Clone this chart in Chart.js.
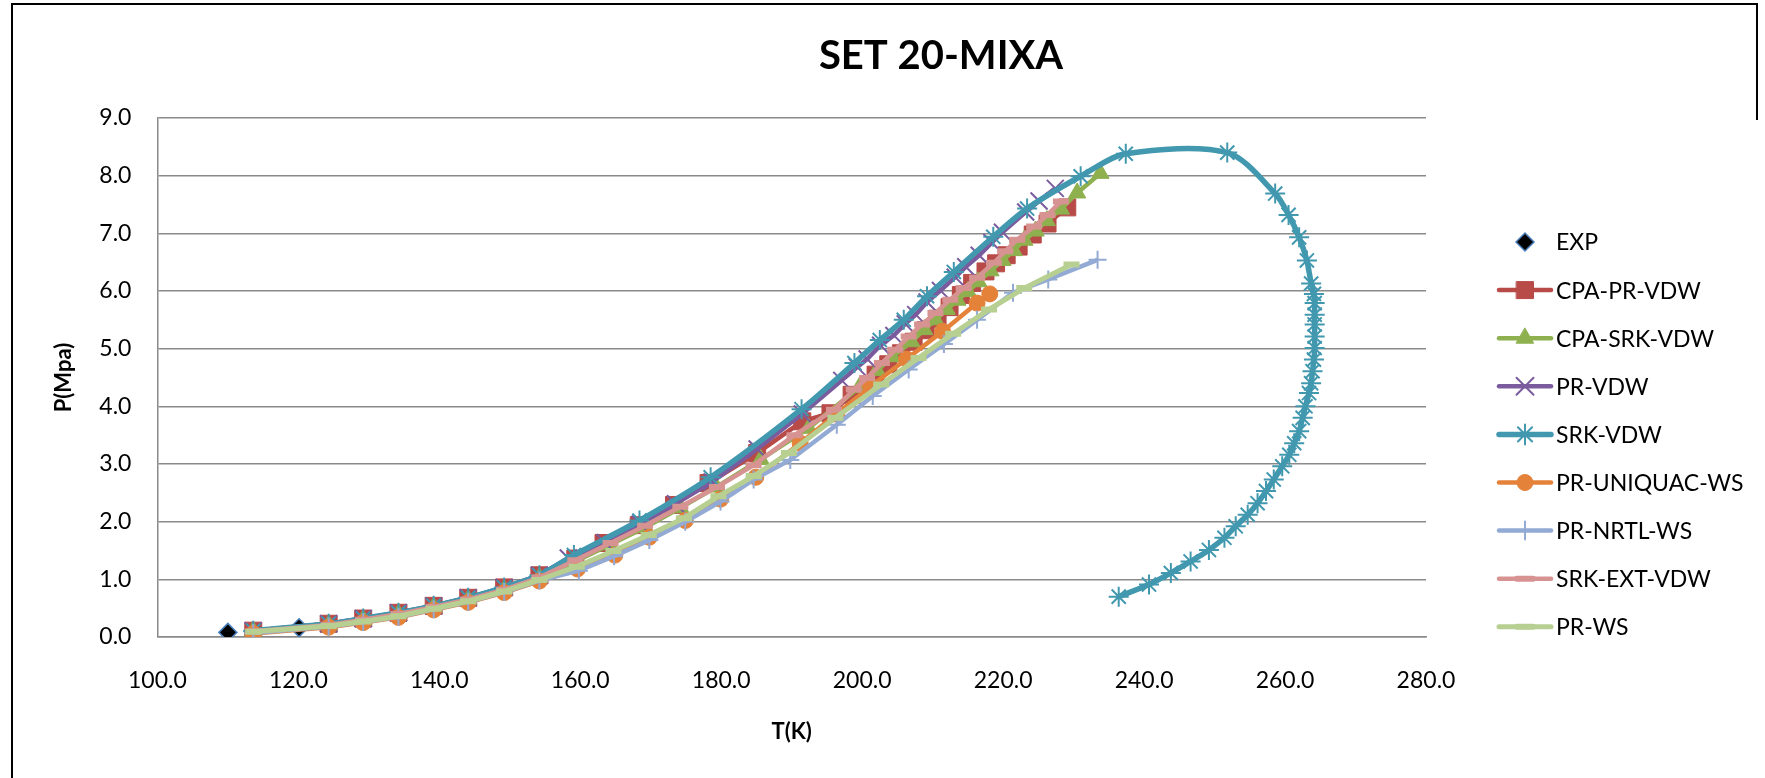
<!DOCTYPE html>
<html>
<head>
<meta charset="utf-8">
<script src="https://cdn.jsdelivr.net/npm/chart.js@4/dist/chart.umd.min.js"></script>
<style>
  html, body { margin: 0; padding: 0; background: #fff; }
  #wrap { width: 1765px; height: 778px; }
</style>
</head>
<body>
<div id="wrap"><canvas id="chartCanvas" width="1765" height="778"></canvas></div>
<script>
// values (T in K, P in MPa)
const expT = [110.0, 113.6, 120.1];
const expP = [0.08, 0.09, 0.16];

const cpaPrT = [113.6, 124.3, 129.2, 134.2, 139.2, 144.1, 149.2, 154.2, 159.3, 163.3, 168.3, 173.3, 178.2, 185.1, 191.5, 195.5, 198.5, 201.9, 203.7, 205.5, 207.3, 209.0, 210.7, 212.4, 214.0, 215.6, 217.5, 219.0, 220.5, 222.2, 224.2, 226.3, 229.1];
const cpaPrP = [0.11, 0.23, 0.32, 0.42, 0.54, 0.68, 0.86, 1.07, 1.36, 1.63, 1.94, 2.29, 2.67, 3.19, 3.74, 3.88, 4.20, 4.55, 4.73, 4.92, 5.12, 5.32, 5.52, 5.72, 5.93, 6.14, 6.34, 6.48, 6.62, 6.77, 6.98, 7.17, 7.45];

const cpaSrkT = [113.6, 124.3, 129.2, 134.2, 139.2, 144.1, 149.2, 154.2, 159.3, 164.2, 169.2, 174.2, 179.3, 185.6, 192.4, 199.6, 202.1, 204.3, 207.0, 208.8, 210.4, 212.0, 213.5, 215.0, 216.5, 218.2, 219.9, 221.5, 223.0, 224.6, 226.2, 228.2, 230.5, 233.8];
const cpaSrkP = [0.10, 0.21, 0.30, 0.40, 0.52, 0.65, 0.82, 1.03, 1.31, 1.60, 1.90, 2.24, 2.60, 3.08, 3.62, 4.33, 4.62, 4.86, 5.12, 5.33, 5.50, 5.68, 5.84, 5.99, 6.16, 6.35, 6.53, 6.70, 6.88, 7.04, 7.22, 7.42, 7.70, 8.04];

const prVdwT = [113.6, 124.3, 129.2, 134.2, 139.2, 144.1, 149.2, 154.2, 158.3, 163.5, 168.5, 173.5, 178.7, 185.1, 191.5, 197.1, 199.3, 200.7, 202.6, 204.5, 206.1, 207.6, 209.2, 211.1, 213.2, 214.7, 216.6, 218.4, 219.9, 223.2, 225.1, 227.4];
const prVdwP = [0.11, 0.23, 0.32, 0.42, 0.54, 0.68, 0.86, 1.07, 1.37, 1.64, 1.96, 2.31, 2.69, 3.26, 3.87, 4.45, 4.68, 4.82, 5.06, 5.23, 5.43, 5.59, 5.81, 6.01, 6.24, 6.42, 6.62, 6.84, 7.02, 7.37, 7.56, 7.78];

const srkVdwT = [113.6, 124.3, 129.2, 134.2, 139.2, 144.1, 149.2, 154.2, 159.1, 168.4, 178.5, 191.4, 198.9, 202.5, 205.9, 209.2, 213.0, 218.6, 223.4, 231.0, 237.4, 251.8, 258.6, 260.5, 262.0, 263.1, 263.7, 264.1, 264.2, 264.2, 264.2, 264.2, 264.2, 264.1, 263.9, 263.7, 263.4, 262.9, 262.5, 262.0, 261.3, 260.6, 259.6, 258.4, 257.3, 256.1, 254.7, 253.0, 251.4, 249.2, 246.6, 243.8, 240.7, 236.4];
const srkVdwP = [0.11, 0.23, 0.32, 0.42, 0.54, 0.68, 0.86, 1.07, 1.42, 2.02, 2.77, 3.95, 4.75, 5.15, 5.50, 5.91, 6.33, 6.94, 7.43, 7.99, 8.38, 8.40, 7.69, 7.32, 6.93, 6.53, 6.13, 5.95, 5.79, 5.59, 5.42, 5.21, 5.01, 4.81, 4.61, 4.40, 4.23, 4.00, 3.80, 3.57, 3.36, 3.16, 2.96, 2.73, 2.53, 2.32, 2.12, 1.92, 1.72, 1.51, 1.31, 1.11, 0.91, 0.70];

const prUniqT = [113.6, 124.3, 129.2, 134.2, 139.2, 144.1, 149.2, 154.2, 159.6, 164.9, 169.8, 174.9, 179.9, 184.9, 191.2, 196.4, 201.2, 206.3, 211.4, 216.3, 218.1];
const prUniqP = [0.06, 0.17, 0.25, 0.34, 0.47, 0.60, 0.77, 0.97, 1.18, 1.42, 1.73, 2.02, 2.39, 2.77, 3.36, 3.87, 4.35, 4.82, 5.30, 5.79, 5.95];

const prNrtlT = [113.6, 124.3, 129.2, 134.2, 139.2, 144.1, 149.2, 154.2, 159.8, 164.8, 169.8, 174.9, 179.9, 184.6, 189.8, 196.4, 201.5, 206.6, 211.6, 216.3, 221.4, 226.4, 233.4];
const prNrtlP = [0.07, 0.18, 0.26, 0.35, 0.48, 0.61, 0.78, 0.98, 1.15, 1.40, 1.68, 2.00, 2.35, 2.73, 3.07, 3.68, 4.18, 4.64, 5.08, 5.50, 5.97, 6.20, 6.54];

const srkExtT = [113.6, 124.3, 129.2, 134.2, 139.2, 144.1, 149.2, 154.2, 159.3, 164.3, 169.2, 174.2, 179.4, 184.6, 190.4, 196.0, 198.8, 200.7, 202.8, 204.7, 206.6, 208.5, 210.4, 212.5, 214.4, 216.3, 218.7, 220.3, 222.0, 224.4, 226.3, 228.2];
const srkExtP = [0.10, 0.21, 0.30, 0.40, 0.52, 0.65, 0.82, 1.03, 1.33, 1.63, 1.93, 2.26, 2.60, 2.98, 3.50, 3.94, 4.29, 4.49, 4.75, 4.98, 5.21, 5.42, 5.62, 5.85, 6.05, 6.23, 6.49, 6.69, 6.89, 7.12, 7.32, 7.55];

const prWsT = [113.6, 124.3, 129.2, 134.2, 139.2, 144.1, 149.2, 154.2, 159.5, 164.7, 169.7, 174.7, 179.6, 184.6, 189.6, 196.2, 202.7, 208.0, 212.9, 218.0, 223.0, 229.7];
const prWsP = [0.09, 0.19, 0.27, 0.36, 0.49, 0.62, 0.79, 0.99, 1.22, 1.49, 1.77, 2.06, 2.44, 2.79, 3.19, 3.80, 4.38, 4.84, 5.26, 5.68, 6.05, 6.46];

const xTicks = [100, 120, 140, 160, 180, 200, 220, 240, 260, 280];
const yTicks = [0, 1, 2, 3, 4, 5, 6, 7, 8, 9];

const labels = ['EXP', 'CPA-PR-VDW', 'CPA-SRK-VDW', 'PR-VDW', 'SRK-VDW', 'PR-UNIQUAC-WS', 'PR-NRTL-WS', 'SRK-EXT-VDW', 'PR-WS'];
const allT = [expT, cpaPrT, cpaSrkT, prVdwT, srkVdwT, prUniqT, prNrtlT, srkExtT, prWsT];
const allP = [expP, cpaPrP, cpaSrkP, prVdwP, srkVdwP, prUniqP, prNrtlP, srkExtP, prWsP];

// look of each series (Excel 2007 palette)
const looks = [
  { color: '#000000', edge: '#4A7EBB', style: 'rectRot', r: 9, pbw: 1.5, line: false },
  { color: '#B84A47', edge: '#B84A47', style: 'rect', r: 12, pbw: 1, line: true, lw: 4.5 },
  { color: '#8EB04E', edge: '#8EB04E', style: 'triangle', r: 10, pbw: 1, line: true, lw: 4.5 },
  { color: '#7A5C9E', edge: '#7A5C9E', style: 'crossRot', r: 12, pbw: 2, line: true, lw: 4.5 },
  { color: '#4198AF', edge: '#4198AF', style: 'star', r: 10, pbw: 2, line: true, lw: 5.5, tension: 0.3 },
  { color: '#E4823A', edge: '#E4823A', style: 'circle', r: 8, pbw: 1, line: true, lw: 4.5 },
  { color: '#92AAD4', edge: '#92AAD4', style: 'cross', r: 9, pbw: 2, line: true, lw: 4.5 },
  { color: '#D69391', edge: '#D69391', style: 'line', r: 8, pbw: 6, line: true, lw: 4.5 },
  { color: '#B7D092', edge: '#B7D092', style: 'line', r: 8, pbw: 6, line: true, lw: 5 }
];

const datasets = labels.map((name, i) => {
  const lk = looks[i];
  return {
    label: name,
    data: allT[i].map((t, k) => ({ x: t, y: allP[i][k] })),
    showLine: lk.line,
    borderColor: lk.color,
    backgroundColor: lk.color,
    borderWidth: lk.lw || 0,
    tension: lk.tension || 0,
    pointStyle: lk.style,
    pointRadius: lk.r,
    pointHoverRadius: lk.r,
    pointBackgroundColor: lk.color,
    pointBorderColor: lk.edge,
    pointBorderWidth: lk.pbw,
    order: labels.length - 1 - i   // later series on top, like Excel
  };
});

const font = 'Lato, "Open Sans", sans-serif';
Chart.defaults.font.family = font;
Chart.defaults.color = '#000';

function drawMarker(ctx, lk, x, y) {
  const opts = { pointStyle: lk.style, rotation: 0, radius: lk.r, borderWidth: lk.pbw };
  ctx.save();
  ctx.fillStyle = lk.color;
  ctx.strokeStyle = lk.edge;
  ctx.lineWidth = lk.pbw;
  if (Chart.helpers && Chart.helpers.drawPoint) {
    Chart.helpers.drawPoint(ctx, opts, x, y);
  }
  ctx.restore();
}

const decor = {
  id: 'decor',
  beforeDraw(chart) {
    const ctx = chart.ctx;
    ctx.save();
    ctx.fillStyle = '#fff';
    ctx.fillRect(0, 0, chart.width, chart.height);
    ctx.restore();
  },
  afterDraw(chart) {
    const ctx = chart.ctx;
    ctx.save();
    // outer frame (right side only shows near the top in the source)
    ctx.strokeStyle = '#000';
    ctx.lineWidth = 2;
    ctx.beginPath();
    ctx.moveTo(12, 778);
    ctx.lineTo(12, 4);
    ctx.lineTo(1757, 4);
    ctx.lineTo(1757, 120);
    ctx.stroke();
    // title
    ctx.fillStyle = '#000';
    ctx.font = 'bold 40px ' + font;
    ctx.textAlign = 'center';
    ctx.textBaseline = 'middle';
    ctx.fillText('SET 20-MIXA', 941, 56);
    // legend
    ctx.font = '23px ' + font;
    ctx.textAlign = 'left';
    labels.forEach((name, i) => {
      const lk = looks[i];
      const y = 242 + i * 48.1;
      if (lk.line) {
        ctx.strokeStyle = lk.color;
        ctx.lineWidth = lk.lw;
        ctx.lineCap = 'round';
        ctx.beginPath();
        ctx.moveTo(1499, y);
        ctx.lineTo(1551, y);
        ctx.stroke();
      }
      drawMarker(ctx, lk, 1525, y);
      ctx.fillStyle = '#000';
      ctx.fillText(name, 1556, y + 1);
    });
    ctx.restore();
  }
};

new Chart(document.getElementById('chartCanvas'), {
  type: 'scatter',
  data: { datasets },
  options: {
    responsive: false,
    animation: false,
    devicePixelRatio: 1,
    layout: { padding: { left: 0, right: 339, top: 118, bottom: 0 } },
    plugins: {
      legend: { display: false },
      title: { display: false },
      tooltip: { enabled: false }
    },
    scales: {
      x: {
        type: 'linear',
        min: xTicks[0],
        max: xTicks[xTicks.length - 1],
        afterBuildTicks: (s) => { s.ticks = xTicks.map(v => ({ value: v })); },
        afterFit: (s) => { s.height = 141; },
        grid: { display: false, drawTicks: false },
        border: { display: true, color: '#8a8a8a', width: 1.5 },
        ticks: { padding: 30, font: { size: 23 }, color: '#000', callback: v => v.toFixed(1), maxRotation: 0 },
        title: { display: true, text: 'T(K)', font: { size: 22, weight: 'bold' }, color: '#000', padding: { top: 0, bottom: 33 } }
      },
      y: {
        type: 'linear',
        min: yTicks[0],
        max: yTicks[yTicks.length - 1],
        afterBuildTicks: (s) => { s.ticks = yTicks.map(v => ({ value: v })); },
        afterFit: (s) => { s.width = 157.4; },
        grid: { color: '#8a8a8a', lineWidth: 1.5, drawTicks: false },
        border: { display: true, color: '#8a8a8a', width: 1.5 },
        ticks: { padding: 26, font: { size: 23 }, color: '#000', callback: v => v.toFixed(1) },
        title: { display: true, text: 'P(Mpa)', font: { size: 22, weight: 'bold' }, color: '#000', padding: { top: 51, bottom: 0 } }
      }
    }
  },
  plugins: [decor]
});
</script>
</body>
</html>
